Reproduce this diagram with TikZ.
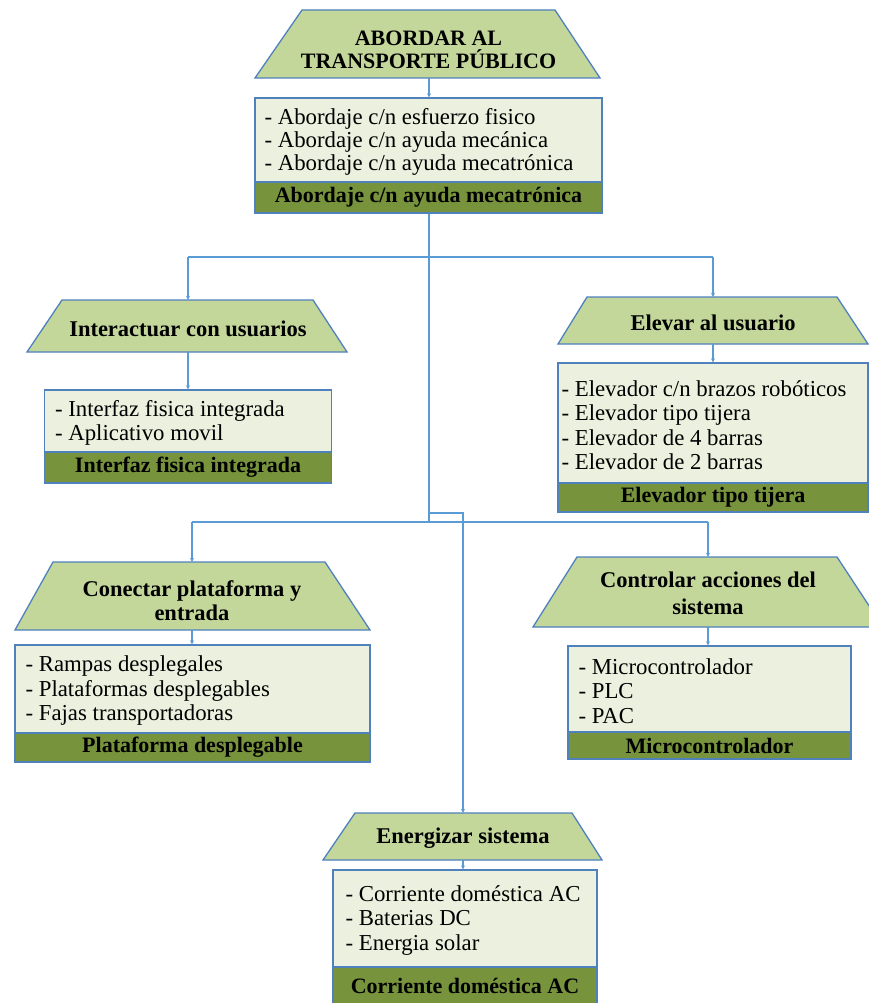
\documentclass[tikz,border=0pt]{standalone}
\usepackage{fontspec}
\setmainfont{Liberation Serif}
\usetikzlibrary{arrows.meta}

\definecolor{trapgreen}{HTML}{C4D79B}
\definecolor{paleground}{HTML}{EBF1DE}
\definecolor{bandgreen}{HTML}{77933C}
\definecolor{edgeblue}{HTML}{4F81BD}
\definecolor{linkblue}{HTML}{5B9BD5}

\tikzset{
  trapshape/.style={draw=edgeblue, fill=trapgreen, line width=1.3pt, line join=miter},
  trapframe/.style={inner sep=0pt, minimum width=10pt},
  traplabel/.style={inner sep=0pt, align=center, font=\fontsize{22.5}{#1}\selectfont\bfseries},
  traplabel/.default=22,
  listbox/.style={draw=edgeblue, fill=paleground, line width=1.3pt, inner sep=0pt},
  listtext/.style={inner sep=0pt, anchor=west, yshift=-2pt, align=left,
    font=\fontsize{22.8}{#1}\selectfont},
  listtext/.default=24.5,
  bandbox/.style={draw=edgeblue, fill=bandgreen, line width=1.3pt, inner sep=0pt,
    font=\fontsize{22}{22}\selectfont\bfseries},
  link/.style={draw=linkblue, line width=1.2pt},
  linkto/.style={link, -{Stealth[length=4pt,width=4pt]}}
}

\begin{document}
\begin{tikzpicture}[x=1pt,y=-1pt]
\useasboundingbox (0,0) rectangle (869,1003);
\fill[white] (0,0) rectangle (869,1003);

% ---------- top level ----------
\draw[trapshape] (302,10) -- (555,10) -- (600,78) -- (255,78) -- cycle;
\node[trapframe, minimum height=68pt] (t0) at (428.5,44) {};
\node[traplabel=22.5, font=\fontsize{22}{22.5}\selectfont\bfseries, yshift=-6pt] (t0l) at (t0.center)
  {ABORDAR AL\\TRANSPORTE PÚBLICO};
\node[listbox, minimum width=347pt, minimum height=84pt] (b0) at (428.5,140) {};
\node[listtext=23.3, xshift=10pt] (b0l) at (b0.west)
  {- Abordaje c/n esfuerzo fisico\\- Abordaje c/n ayuda mecánica\\- Abordaje c/n ayuda mecatrónica};
\node[bandbox, minimum width=347pt, minimum height=31pt] (k0) at (428.5,197.5) {Abordaje c/n ayuda mecatrónica};

% ---------- Interactuar con usuarios ----------
\draw[trapshape] (62,300) -- (313,300) -- (347,352) -- (27,352) -- cycle;
\node[trapframe, minimum height=52pt] (t1) at (188,326) {};
\node[traplabel, yshift=-3pt] (t1l) at (t1.center) {Interactuar con usuarios};
\node[listbox, minimum width=287pt, minimum height=62pt] (b1) at (188,421) {};
\node[listtext, xshift=11pt] (b1l) at (b1.west) {- Interfaz fisica integrada\\- Aplicativo movil};
\node[bandbox, minimum width=287pt, minimum height=31pt] (k1) at (188,467.5) {Interfaz fisica integrada};

% ---------- Elevar al usuario ----------
\draw[trapshape] (587,297) -- (837,297) -- (868,344) -- (558,344) -- cycle;
\node[trapframe, minimum height=47pt] (t2) at (713,320.5) {};
\node[traplabel, yshift=-2pt] (t2l) at (t2.center) {Elevar al usuario};
\node[listbox, minimum width=310pt, minimum height=120pt] (b2) at (713,423) {};
\node[listtext, xshift=4pt] (b2l) at (b2.west)
  {- Elevador c/n brazos robóticos\\- Elevador tipo tijera\\- Elevador de 4 barras\\- Elevador de 2 barras};
\node[bandbox, minimum width=310pt, minimum height=29pt] (k2) at (713,497.5) {Elevador tipo tijera};

% ---------- Conectar plataforma y entrada ----------
\draw[trapshape] (53,562) -- (325,562) -- (370,630) -- (15,630) -- cycle;
\node[trapframe, minimum height=68pt] (t3) at (192,596) {};
\node[traplabel=24, yshift=-5pt] (t3l) at (t3.center) {Conectar plataforma y\\entrada};
\node[listbox, minimum width=355pt, minimum height=88pt] (b3) at (192.5,689) {};
\node[listtext, xshift=11pt] (b3l) at (b3.west)
  {- Rampas desplegales\\- Plataformas desplegables\\- Fajas transportadoras};
\node[bandbox, minimum width=355pt, minimum height=29pt] (k3) at (192.5,747.5) {Plataforma desplegable};

% ---------- Controlar acciones del sistema ----------
\draw[trapshape] (577,557) -- (837,557) -- (883,627) -- (533,627) -- cycle;
\node[trapframe, minimum height=70pt] (t4) at (708,592) {};
\node[traplabel=27, yshift=-1pt] (t4l) at (t4.center) {Controlar acciones del\\sistema};
\node[listbox, minimum width=283pt, minimum height=86pt] (b4) at (709.5,689) {};
\node[listtext, xshift=11pt] (b4l) at (b4.west) {- Microcontrolador\\- PLC\\- PAC};
\node[bandbox, minimum width=283pt, minimum height=27pt] (k4) at (709.5,745.5) {Microcontrolador};

% ---------- Energizar sistema ----------
\draw[trapshape] (355,813) -- (572,813) -- (602,860) -- (323,860) -- cycle;
\node[trapframe, minimum height=47pt] (t5) at (463,836.5) {};
\node[traplabel, yshift=-2pt] (t5l) at (t5.center) {Energizar sistema};
\node[listbox, minimum width=264pt, minimum height=97pt] (b5) at (465,918.5) {};
\node[listtext, xshift=13pt] (b5l) at (b5.west) {- Corriente doméstica AC\\- Baterias DC\\- Energia solar};
\node[bandbox, minimum width=264pt, minimum height=38pt] (k5) at (465,986) {Corriente doméstica AC};

% ---------- connectors ----------
\coordinate (j1) at (429,257);
\coordinate (j3) at (429,513);
\coordinate (j2) at (429,522);

\draw[linkto] (t0.south -| j1) -- (b0.north -| j1);
\draw[link] (k0.south -| j1) -- (j2);
\draw[link] (t1.north |- j1) -- (t2.north |- j1);
\draw[linkto] (t1.north |- j1) -- (t1.north);
\draw[linkto] (t2.north |- j1) -- (t2.north);
\draw[link] (t3.north |- j2) -- (t4.north |- j2);
\draw[linkto] (t3.north |- j2) -- (t3.north);
\draw[linkto] (t4.north |- j2) -- (t4.north);
\draw[linkto] (j3) -| (t5.north);

\draw[linkto] (t1.south) -- (t1.south |- b1.north);
\draw[linkto] (t2.south) -- (t2.south |- b2.north);
\draw[linkto] (t3.south) -- (t3.south |- b3.north);
\draw[linkto] (t4.south) -- (t4.south |- b4.north);
\draw[linkto] (t5.south) -- (t5.south |- b5.north);
\end{tikzpicture}
\end{document}
